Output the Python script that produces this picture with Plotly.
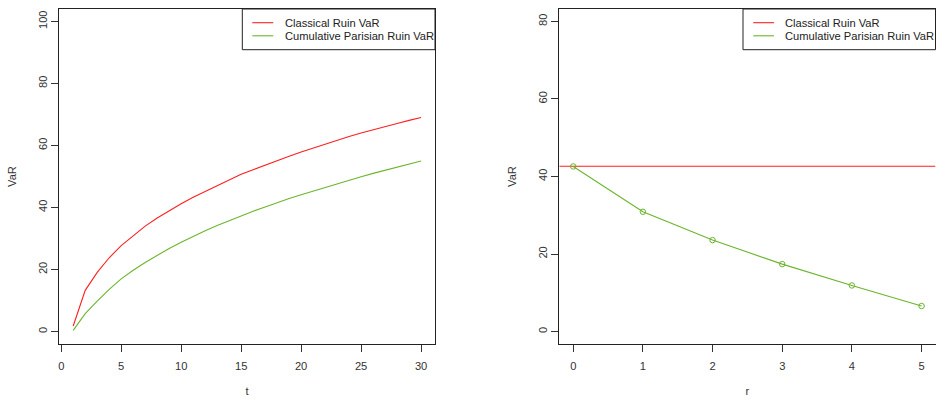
import plotly.graph_objects as go

# ---- data ----
t_vals = list(range(1, 31))
classical_t = [1.8, 13.3, 19.1, 23.8, 27.7, 31.0, 34.0, 36.6, 39.0, 41.2,
               43.3, 45.2, 47.1, 48.9, 50.7, 52.2, 53.7, 55.1, 56.5, 57.9,
               59.2, 60.5, 61.7, 62.9, 64.0, 65.1, 66.1, 67.1, 68.1, 69.0]
parisian_t = [0.4, 5.8, 9.8, 13.6, 17.0, 19.8, 22.3, 24.6, 26.8, 28.8,
              30.7, 32.5, 34.2, 35.8, 37.4, 38.8, 40.2, 41.6, 42.9, 44.1,
              45.3, 46.5, 47.6, 48.8, 49.9, 51.0, 52.0, 53.0, 54.0, 55.0]
r_vals = [0, 1, 2, 3, 4, 5]
classical_r = 42.65
parisian_r = [42.6, 30.9, 23.6, 17.4, 11.9, 6.6]

series_names = ["Classical Ruin VaR", "Cumulative Parisian Ruin VaR"]

left_xticks = [0, 5, 10, 15, 20, 25, 30]
left_yticks = [0, 20, 40, 60, 80, 100]
right_xticks = [0, 1, 2, 3, 4, 5]
right_yticks = [0, 20, 40, 60, 80]

RED = "#FF1F1F"
GREEN = "#6CB52D"
W, H = 936, 399
FONT = "Liberation Sans, Arial, sans-serif"
FS = 11.15


def fx(p):
    """page pixel x -> paper fraction"""
    return p / W


def fy(p):
    """page pixel y -> paper fraction"""
    return 1 - p / H


fig = go.Figure()

fig.add_trace(go.Scatter(x=t_vals, y=classical_t, mode="lines", name=series_names[0],
                         line=dict(color=RED, width=1.1), xaxis="x", yaxis="y"))
fig.add_trace(go.Scatter(x=t_vals, y=parisian_t, mode="lines", name=series_names[1],
                         line=dict(color=GREEN, width=1.1), xaxis="x", yaxis="y"))

fig.add_trace(go.Scatter(x=[-0.2, 5.2], y=[classical_r, classical_r], mode="lines",
                         name=series_names[0], line=dict(color=RED, width=1.1),
                         xaxis="x2", yaxis="y2"))
fig.add_trace(go.Scatter(x=r_vals, y=parisian_r, mode="lines+markers",
                         name=series_names[1],
                         line=dict(color=GREEN, width=1.1),
                         marker=dict(symbol="circle-open", size=5.5, color=GREEN, line=dict(width=1)),
                         xaxis="x2", yaxis="y2"))

axis_common = dict(showgrid=False, zeroline=False, showline=True, linecolor="#222",
                   linewidth=1, mirror=True, ticks="outside", ticklen=7, tickcolor="#333",
                   automargin=False,
                   tickfont=dict(family=FONT, size=FS, color="#333"),
                   title_font=dict(family=FONT, size=FS, color="#333"))

# ---- legends drawn as boxed keys (R style) ----
shapes = []
annotations = []
legend_boxes = [
    # (box x0, box x1, line x0, line x1, text x)
    (242.3, 435.0, 252.3, 273.3, 282.5),
    (743.0, 935.5, 753.3, 774.0, 783.2),
]
row_y = [22.7, 35.8]
row_colors = [RED, GREEN]
for bx0, bx1, lx0, lx1, tx in legend_boxes:
    shapes.append(dict(type="rect", xref="paper", yref="paper",
                       x0=fx(bx0), x1=fx(bx1), y0=fy(49.7), y1=fy(9),
                       line=dict(color="#222", width=1), fillcolor="white", layer="above"))
    for name, col, yy in zip(series_names, row_colors, row_y):
        shapes.append(dict(type="line", xref="paper", yref="paper",
                           x0=fx(lx0), x1=fx(lx1), y0=fy(yy), y1=fy(yy),
                           line=dict(color=col, width=1.1), layer="above"))
        annotations.append(dict(text=name, xref="paper", yref="paper",
                                x=fx(tx), y=fy(yy), xanchor="left", yanchor="middle",
                                showarrow=False, font=dict(family=FONT, size=FS, color="#222")))

fig.update_layout(
    width=W, height=H,
    margin=dict(l=0, r=0, t=0, b=0, autoexpand=False),
    paper_bgcolor="white", plot_bgcolor="white",
    showlegend=False,
    xaxis=dict(domain=[fx(59.3), fx(435)], range=[-0.16, 31.16], ticklabelstandoff=5,
               tickvals=left_xticks, title=dict(text="t", standoff=15), anchor="y", **axis_common),
    yaxis=dict(domain=[fy(344), fy(9)], range=[-4, 104], tickvals=left_yticks,
               tickangle=-90, title=dict(text="VaR", standoff=17), anchor="x", **axis_common),
    xaxis2=dict(domain=[fx(559.3), fx(935.5)], range=[-0.2, 5.2], ticklabelstandoff=5,
                tickvals=right_xticks, title=dict(text="r", standoff=15), anchor="y2", **axis_common),
    yaxis2=dict(domain=[fy(344), fy(9)], range=[-3.2, 83.2], tickvals=right_yticks,
                tickangle=-90, title=dict(text="VaR", standoff=17), anchor="x2", **axis_common),
    shapes=shapes,
    annotations=annotations,
)

fig.write_html(
    "out.html",
    config={"displayModeBar": False},
    post_script="document.body.style.margin='0';"
                "document.documentElement.style.overflow='hidden';",
)
